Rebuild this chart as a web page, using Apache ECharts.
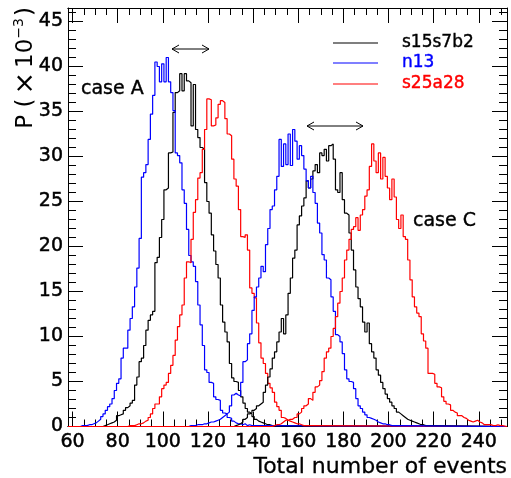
<!DOCTYPE html>
<html>
<head>
<meta charset="utf-8">
<script src="https://cdn.jsdelivr.net/npm/echarts@6/dist/echarts.min.js"></script>
<style>html,body{margin:0;padding:0;background:#fff;}#c{width:511px;height:478px;}</style>
</head>
<body>
<div id="c"></div>
<script>
// ---- data (bin = integer number of events, P in units of 1e-3) ----
const seriesNames = ['s15s7b2', 'n13', 's25a28'];
const blackA_start = 74;
const blackA = [0.1,0.2,0.3,0.4,0.5,0.7,1.2,1.3,1.4,1.8,2.1,2.3,2.6,2.9,4.6,5.5,7.2,7.6,9.0,10.7,11.8,12.4,12.8,18.2,18.8,21.0,23.0,26.3,26.5,30.4,30.5,34.9,37.1,37.3,39.2,37.3,39.2,38.4,38.2,33.4,38.0,33.0,32.1,31.0,30.8,27.1,25.0,23.7,21.3,19.5,18.0,16.5,13.5,11.6,10.5,9.4,7.0,5.4,5.0,4.9,4.0,3.3,2.6,2.0,1.6,1.4,1.1,0.8,0.6,0.5,0.4,0.3,0.2,0.2,0.1,0.1];
const blueA_start = 64;
const blueA = [0.1,0.1,0.1,0.2,0.2,0.3,0.4,0.6,0.8,1.1,1.4,1.8,2.2,2.5,3.1,4.0,4.8,5.3,7.6,8.7,8.7,10.7,12.0,13.3,15.5,17.6,20.9,27.7,28.2,29.1,31.9,34.7,36.8,40.5,40.0,38.3,40.3,38.3,41.0,38.3,37.1,35.1,30.4,30.1,29.3,26.3,24.8,21.9,19.0,18.3,17.8,16.1,13.5,11.3,9.0,6.3,6.0,4.9,4.8,3.3,3.0,2.9,1.8,1.5,1.4,1.0,0.9,0.6,0.4,0.3,0.3,0.2,0.3,0.1,0.2,0.1,0.1];
const redA_start = 85;
const redA = [0.1,0.1,0.1,0.2,0.3,0.3,0.4,0.6,0.7,1.0,1.4,2.0,2.5,2.5,3.3,4.2,4.6,4.9,5.9,6.8,7.9,9.6,11.1,12.4,13.5,16.5,18.3,18.2,20.8,23.8,25.2,27.6,28.2,30.8,33.0,36.4,36.3,33.4,33.5,34.3,35.8,36.2,36.0,34.2,32.5,32.3,29.7,27.5,26.7,24.1,21.1,21.0,21.3,19.6,15.4,14.8,14.3,11.5,9.3,7.6,7.0,5.9,4.8,4.3,3.8,2.7,2.2,1.8,1.0,0.9,0.7,0.6,0.5,0.4,0.3,0.3,0.2,0.1,0.1];
const blackC_start = 132;
const blackC = [0.1,0.2,0.3,0.5,0.8,1.0,1.4,1.5,1.8,2.0,2.3,2.5,2.7,3.8,4.6,5.5,6.4,7.6,8.3,9.4,10.5,12.0,10.3,12.4,14.8,16.5,18.7,19.6,22.4,23.4,24.5,25.4,27.3,26.5,27.5,28.4,29.1,28.2,30.4,30.1,30.8,29.5,31.2,31.4,29.7,26.3,26.0,28.2,25.2,23.7,23.5,21.5,19.6,17.4,15.5,14.2,13.3,11.6,10.5,11.5,9.2,8.3,7.6,6.3,5.7,4.9,4.2,3.6,3.1,2.7,2.3,2.0,1.6,1.4,1.2,1.0,0.8,0.7,0.6,0.5,0.4,0.3,0.2,0.2,0.1,0.1];
const blueC_start = 112;
const blueC = [0.1,0.1,0.1,0.2,0.2,0.2,0.3,0.3,0.4,0.5,0.5,0.6,0.7,0.8,1.0,1.2,1.4,1.6,2.3,3.5,3.7,3.5,3.4,4.9,7.2,7.4,9.2,10.3,12.9,14.4,15.5,16.5,17.8,17.2,20.2,22.0,24.1,24.5,26.3,27.8,31.9,28.9,31.4,29.1,32.5,29.0,33.0,31.7,29.7,31.2,30.1,28.6,27.3,26.5,27.8,26.0,24.8,22.6,21.5,19.1,18.5,16.5,16.3,14.4,12.8,10.2,10.0,9.4,8.1,6.3,5.3,5.0,4.9,4.2,3.1,2.3,2.0,1.6,1.3,1.0,0.9,0.8,0.7,0.5,0.4,0.3,0.3,0.2,0.2,0.1,0.1,0.1];
const redC_start = 149;
const redC = [0.1,0.2,0.2,0.3,0.5,0.7,0.7,0.8,0.8,1.0,1.0,1.4,1.6,2.0,2.3,2.5,3.1,2.9,3.8,4.4,4.6,5.1,6.1,7.6,8.3,8.7,10.0,10.9,12.2,13.7,15.0,16.5,18.5,19.6,20.8,21.9,22.2,23.2,21.8,23.5,24.1,25.6,26.3,28.9,31.4,29.5,28.2,30.4,27.5,29.9,27.8,26.5,25.2,27.5,25.5,23.0,22.0,23.5,21.1,20.8,18.5,16.3,14.4,13.3,12.6,12.2,10.3,9.5,8.7,5.9,5.9,5.8,4.8,4.4,4.3,3.3,2.8,2.5,2.4,1.8,1.6,1.5,1.2,1.2,1.0,0.9,0.7,0.6,0.5,0.6,0.7,0.5,0.4,0.2,0.2,0.2,0.2,0.1,0.1,0.2,0.1,0.1];
const xLabelTicks = [60,80,100,120,140,160,180,200,220,240];
const xSmallTicks = [60,65,70,75,80,85,90,95,100,105,110,115,120,125,130,135,140,145,150,155,160,165,170,175,180,185,190,195,200,205,210,215,220,225,230,235,240,245,250];

// ---- layout ----
const XMIN = 58, XMAX = 252.5, YMAX = 46.5;
const FONT = 'DejaVu Sans';
const colors = { 's15s7b2': '#000000', 'n13': '#0000ff', 's25a28': '#ff0000' };

function hist(start, vals) {
  const d = [[XMIN, 0]];
  for (let i = 0; i < vals.length; i++) d.push([start + i - 0.5, vals[i]]);
  const e = start + vals.length - 0.5;
  d.push([e, vals[vals.length - 1]]);
  d.push([e, 0]);
  d.push([XMAX, 0]);
  return d;
}
function mk(name, start, vals) {
  return {
    name: name, type: 'line', step: 'end', symbol: 'none', xAxisIndex: 0, yAxisIndex: 0,
    data: hist(start, vals), lineStyle: { color: colors[name], width: 1.2 },
    itemStyle: { color: colors[name] }, animation: false, silent: true
  };
}

const chart = echarts.init(document.getElementById('c'), null, { renderer: 'canvas' });

const labelStyle = { color: '#000', fontFamily: FONT, fontSize: 19, textBorderColor: '#000', textBorderWidth: 0.5 };
function xAx(pos, ticks, len, labels) {
  return {
    type: 'value', position: pos, min: XMIN, max: XMAX,
    axisLine: { show: true, onZero: false, lineStyle: { color: '#000', width: 1 } },
    axisTick: { show: true, inside: true, length: len, customValues: ticks, lineStyle: { color: '#000', width: 1 } },
    axisLabel: labels ? Object.assign({ show: true, customValues: ticks, margin: 6 }, labelStyle) : { show: false },
    splitLine: { show: false }
  };
}
function yAx(pos, labels) {
  return {
    type: 'value', position: pos, min: 0, max: YMAX, interval: 5,
    axisLine: { show: true, onZero: false, lineStyle: { color: '#000', width: 1 } },
    axisTick: { show: true, inside: true, length: 15, lineStyle: { color: '#000', width: 1 } },
    minorTick: { show: true, splitNumber: 5, length: 8, lineStyle: { color: '#000', width: 1 } },
    axisLabel: labels ? Object.assign({ show: true, margin: 5,
      formatter: function (v) { return v > 45.5 ? '' : String(v); } }, labelStyle) : { show: false },
    splitLine: { show: false }
  };
}

const legendY = [43, 63, 84];
const graphics = [];
seriesNames.forEach(function (n, i) {
  graphics.push({ type: 'line', shape: { x1: 333, y1: legendY[i], x2: 378, y2: legendY[i] }, style: { stroke: colors[n], lineWidth: 1.2 } });
  graphics.push({ type: 'text', x: 402, y: legendY[i], style: { text: n, fill: colors[n], font: '17px "' + FONT + '"', verticalAlign: 'middle', align: 'left', stroke: colors[n], lineWidth: 0.4 } });
});
graphics.push({ type: 'text', x: 81, y: 89, style: { text: 'case A', fill: '#000', font: '19px "' + FONT + '"', verticalAlign: 'middle', stroke: '#000', lineWidth: 0.4 } });
graphics.push({ type: 'text', x: 413, y: 221, style: { text: 'case C', fill: '#000', font: '19px "' + FONT + '"', verticalAlign: 'middle', stroke: '#000', lineWidth: 0.4 } });
function arrow(x1, x2, y) {
  graphics.push({ type: 'line', shape: { x1: x1, y1: y, x2: x2, y2: y }, style: { stroke: '#000', lineWidth: 1 } });
  graphics.push({ type: 'polyline', shape: { points: [[x1 + 7, y - 4], [x1, y], [x1 + 7, y + 4]] }, style: { stroke: '#000', lineWidth: 1, fill: null } });
  graphics.push({ type: 'polyline', shape: { points: [[x2 - 7, y - 4], [x2, y], [x2 - 7, y + 4]] }, style: { stroke: '#000', lineWidth: 1, fill: null } });
}
arrow(172, 209, 49);
arrow(307, 363, 126);
graphics.push({ type: 'text', x: 507, y: 467, style: { text: 'Total number of events', fill: '#000', font: '22px "' + FONT + '"', align: 'right', verticalAlign: 'middle', stroke: '#000', lineWidth: 0.3 } });
graphics.push({ type: 'text', x: 26, y: 7, rotation: Math.PI / 2,
  style: { text: '{a|P (}{x|×}{a|10}{s|−3}{a|)}', align: 'right', verticalAlign: 'middle', fill: '#000',
    rich: { a: { fontFamily: FONT, fontSize: 23, fill: '#000' }, x: { fontFamily: FONT, fontSize: 27, fill: '#000', padding: [0, 4, 0, 4] },
      s: { fontFamily: FONT, fontSize: 14, fill: '#000', verticalAlign: 'top', padding: [0, 2, 10, 0] } } } });

chart.setOption({
  animation: false,
  backgroundColor: '#fff',
  grid: { left: 68, top: 8, width: 439, height: 418.5, containLabel: false },
  xAxis: [xAx('bottom', xLabelTicks, 15, true), xAx('bottom', xSmallTicks, 7, false), xAx('top', xLabelTicks, 15, false), xAx('top', xSmallTicks, 7, false)],
  yAxis: [yAx('left', true), yAx('right', false)],
  series: [
    mk('s15s7b2', blackA_start, blackA), mk('n13', blueA_start, blueA), mk('s25a28', redA_start, redA),
    mk('s15s7b2', blackC_start, blackC), mk('n13', blueC_start, blueC), mk('s25a28', redC_start, redC)
  ],
  graphic: graphics
});
</script>
</body>
</html>
